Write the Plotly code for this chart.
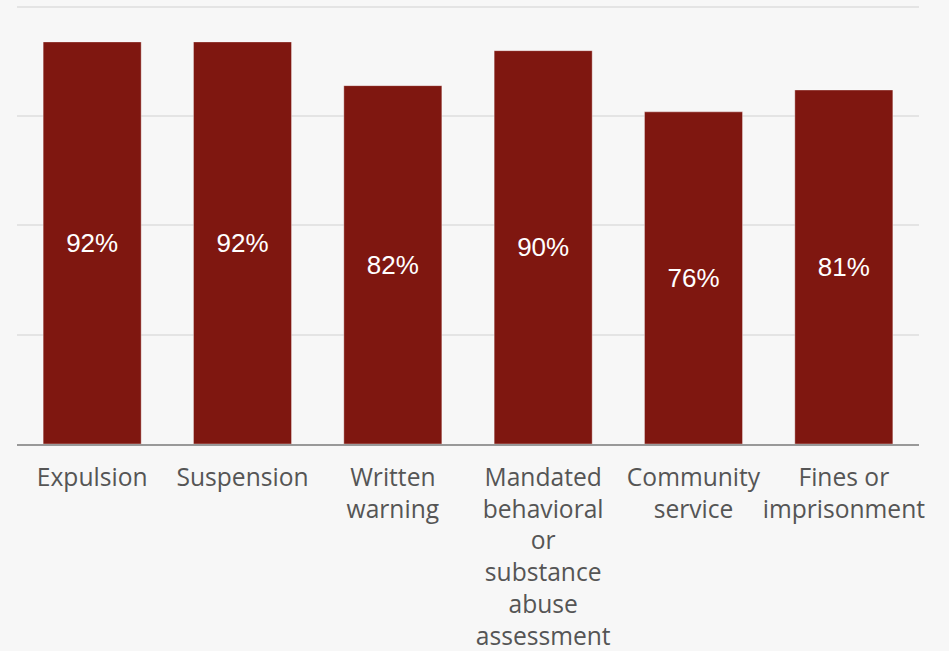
import plotly.graph_objects as go

categories = [
    "Expulsion",
    "Suspension",
    "Written<br>warning",
    "Mandated<br>behavioral<br>or<br>substance<br>abuse<br>assessment",
    "Community<br>service",
    "Fines or<br>imprisonment",
]
values = [92, 92, 82, 90, 76, 81]
labels = [f"{v}%" for v in values]

fig = go.Figure(
    go.Bar(
        x=categories,
        y=values,
        text=labels,
        textposition="inside",
        insidetextanchor="middle",
        textangle=0,
        textfont=dict(family="Liberation Sans, Arial, sans-serif", size=26, color="#ffffff"),
        marker=dict(color="#7f1710", line=dict(color="rgba(255,255,255,0.35)", width=1)),
        width=0.652,
        hoverinfo="skip",
    )
)

fig.update_layout(
    width=949,
    height=651,
    margin=dict(l=17, r=30, t=5, b=207),
    paper_bgcolor="#f7f7f7",
    plot_bgcolor="#f7f7f7",
    showlegend=False,
    uniformtext=dict(minsize=10, mode="show"),
)
fig.update_xaxes(
    automargin=False,
    tickangle=0,
    tickfont=dict(family="Open Sans, Noto Sans, sans-serif", size=24.6, color="#555555"),
    showline=True,
    linecolor="#999999",
    linewidth=2,
    ticks="",
    ticklabelstandoff=10,
)
fig.update_yaxes(
    range=[0, 100.45],
    tickvals=[25, 50, 75, 100],
    showticklabels=False,
    gridcolor="#e4e4e4",
    gridwidth=1.5,
    zeroline=False,
    automargin=False,
)

fig.write_html("out.html")
